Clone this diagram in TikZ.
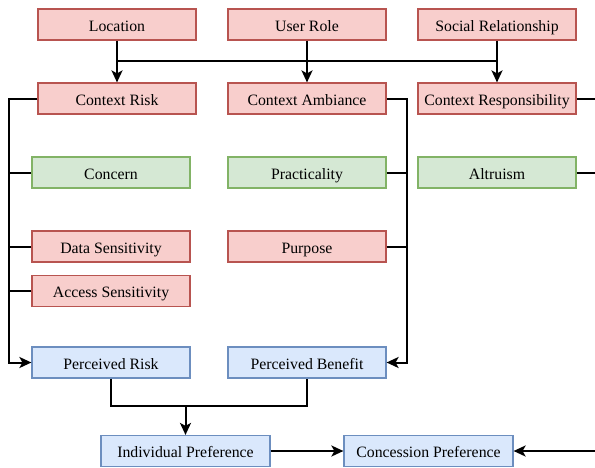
\documentclass[tikz,border=0pt]{standalone}
\usepackage{fontspec}
\setmainfont{Liberation Serif}
\usetikzlibrary{arrows.meta,calc}
\definecolor{rfill}{HTML}{F8CECC}\definecolor{rdraw}{HTML}{B85450}
\definecolor{gfill}{HTML}{D5E8D4}\definecolor{gdraw}{HTML}{82B366}
\definecolor{bfill}{HTML}{DAE8FC}\definecolor{bdraw}{HTML}{6C8EBF}
\tikzset{
  box/.style={draw, line width=1.2pt, minimum width=158pt, minimum height=31pt, inner sep=0pt,
    text height=14.6pt, text depth=1pt,
    font=\fontsize{15.8}{18}\selectfont, anchor=center},
  rbox/.style={box, fill=rfill, draw=rdraw},
  gbox/.style={box, fill=gfill, draw=gdraw},
  bbox/.style={box, fill=bfill, draw=bdraw, minimum width=169pt},
  wide/.style={minimum width=158pt},
  edge/.style={line width=2pt, line join=miter},
  arr/.style={edge, -{Stealth[length=12pt,width=11pt,inset=3pt]}},
}
\begin{document}
\begin{tikzpicture}[x=1pt,y=-1pt]
\useasboundingbox (0,0) rectangle (595,467);
\node[rbox] (loc) at (117,24.5) {Location};
\node[rbox] (role) at (307,24.5) {User Role};
\node[rbox] (soc) at (497,24.5) {Social Relationship};
\node[rbox] (crisk) at (117,98.5) {Context Risk};
\node[rbox] (camb) at (307,98.5) {Context Ambiance};
\node[rbox] (cresp) at (497,98.5) {Context Responsibility};
\node[gbox] (concern) at (111,172.5) {Concern};
\node[gbox] (pract) at (307,172.5) {Practicality};
\node[gbox] (altr) at (497,172.5) {Altruism};
\node[rbox] (datas) at (111,246.5) {Data Sensitivity};
\node[rbox] (purp) at (307,246.5) {Purpose};
\node[rbox] (accs) at (111,291) {Access Sensitivity};
\node[bbox,wide] (prisk) at (111,362.5) {Perceived Risk};
\node[bbox,wide] (pben) at (307,362.5) {Perceived Benefit};
\node[bbox] (indiv) at (185.5,451) {Individual Preference};
\node[bbox] (conc) at (428.5,451) {Concession Preference};
\coordinate (redge1) at (596,98.5);
\coordinate (redge2) at (596,172.5);
\coordinate (redge3) at (596,451);
% top merge
\draw[arr] (loc) -- (crisk);
\draw[arr] (role) -- (camb);
\draw[arr] (soc) -- (cresp);
\draw[edge] (loc.south |- 0,61) -- (soc.south |- 0,61);
% left bus
\draw[arr] (crisk.west) -- ++(-28,0) |- (prisk.west);
\draw[edge] (concern.west) -- (concern.west -| 10,0);
\draw[edge] (datas.west) -- (datas.west -| 10,0);
\draw[edge] (accs.west) -- (accs.west -| 10,0);
% right bus
\draw[arr] (camb.east) -- ++(20,0) |- (pben.east);
\draw[edge] (pract.east) -- (pract.east -| 406,0);
\draw[edge] (purp.east) -- (purp.east -| 406,0);
% off-picture lines
\draw[edge] (cresp.east) -- (redge1);
\draw[edge] (altr.east) -- (redge2);
\draw[arr] (redge3) -- (conc.east);
% bottom
\draw[edge] (prisk.south) -- (prisk.south |- 0,406) -- (pben.south |- 0,406) -- (pben.south);
\draw[arr] (indiv.north |- 0,406) -- (indiv.north);
\draw[arr] (indiv) -- (conc);
\end{tikzpicture}
\end{document}
